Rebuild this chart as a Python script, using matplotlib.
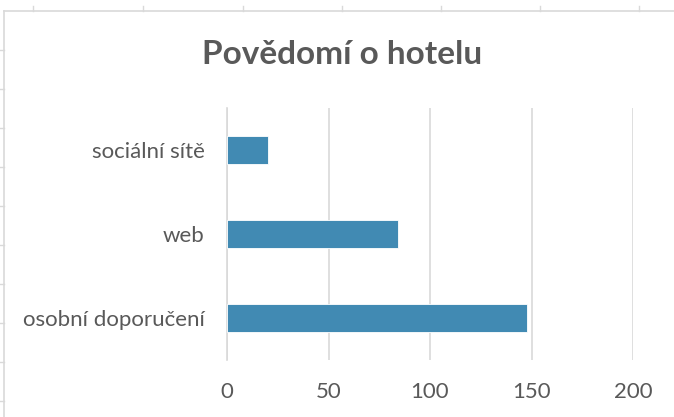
import matplotlib.pyplot as plt
from matplotlib.lines import Line2D

categories = ['osobní doporučení', 'web', 'sociální sítě']
values = [148, 84, 20]
xticks = [0, 50, 100, 150, 200]

barColor = '#418AB3'
textColor = '#595959'
gridColor = '#D9D9D9'

plt.rcParams['font.family'] = ['Lato', 'DejaVu Sans']

fig = plt.figure(figsize=(6.74, 4.17), dpi=100)
ax = fig.add_axes([227/674, 1-360/417, (633-227)/674, (360-108)/417])

ypos = list(range(len(categories)))
ax.barh(ypos, values, height=0.34, color=barColor, edgecolor='white', linewidth=0.6, zorder=3)
ax.set_xlim(0, 200)
ax.set_ylim(-0.5, 2.5)
ax.set_xticks(xticks)
ax.set_yticks(ypos)
ax.set_yticklabels(categories)
ax.grid(axis='x', color=gridColor, linewidth=1.2, zorder=0)
for s in ['top', 'right', 'bottom']:
    ax.spines[s].set_visible(False)
ax.spines['left'].set_color(gridColor)
ax.spines['left'].set_linewidth(1.2)
ax.tick_params(axis='both', length=0, labelsize=16, labelcolor=textColor)
ax.tick_params(axis='x', pad=16)
ax.tick_params(axis='y', pad=16)

fig.text(0.507, 1-55/417, 'Povědomí o hotelu', ha='center', va='center',
         fontsize=24, fontweight='bold', color=textColor)

# sheet border behind the chart
fig.add_artist(Line2D([4/674, 1], [1-11/417, 1-11/417], color=gridColor, linewidth=1.2))
fig.add_artist(Line2D([4/674, 4/674], [0, 1-11/417], color=gridColor, linewidth=1.2))
for px in [33, 143, 243, 342, 441, 540, 639]:
    fig.add_artist(Line2D([px/674, px/674], [1-11/417, 1-6/417], color=gridColor, linewidth=1))
for py in [50, 89, 128, 167, 206, 245, 284, 323, 362, 401]:
    fig.add_artist(Line2D([0, 4/674], [1-py/417, 1-py/417], color=gridColor, linewidth=1))

fig.savefig('out.png', dpi=100)
